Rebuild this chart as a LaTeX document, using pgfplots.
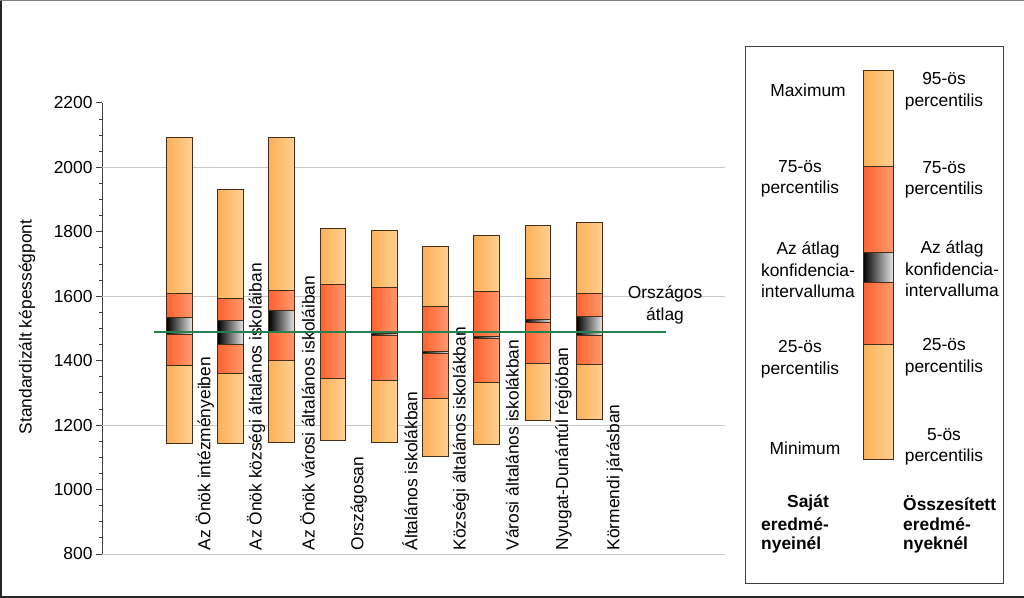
\documentclass[border=0pt]{standalone}
\usepackage{fontspec}
\setmainfont{Liberation Sans}
\usepackage{pgfplots}
\pgfplotsset{compat=1.18}

\definecolor{loL}{RGB}{252,176,88}
\definecolor{loR}{RGB}{255,208,146}
\definecolor{hiL}{RGB}{255,98,48}
\definecolor{hiR}{RGB}{255,154,110}
\definecolor{edge}{RGB}{70,45,25}
\definecolor{avg}{RGB}{38,128,78}
\definecolor{gridc}{RGB}{200,200,200}

\newcommand{\lbl}{\fontsize{17.4}{21.5}\selectfont}

\tikzset{
 lo/.style={draw=edge, line width=1pt, left color=loL, right color=loR},
 hi/.style={draw=edge, line width=1pt, left color=hiL, right color=hiR},
 ci/.style={draw=edge, line width=1pt, left color=black, right color=white!90!black},
}

% #1 left, #2 right, #3 min, #4 q25, #5 CI low, #6 CI high, #7 q75, #8 max
\newcommand{\boxbar}[8]{%
 \addplot[lo] coordinates {(#1,#3) (#2,#3) (#2,#4) (#1,#4)} -- cycle;
 \addplot[hi] coordinates {(#1,#4) (#2,#4) (#2,#5) (#1,#5)} -- cycle;
 \addplot[hi] coordinates {(#1,#6) (#2,#6) (#2,#7) (#1,#7)} -- cycle;
 \addplot[lo] coordinates {(#1,#7) (#2,#7) (#2,#8) (#1,#8)} -- cycle;
 \addplot[ci] coordinates {(#1,#5) (#2,#5) (#2,#6) (#1,#6)} -- cycle;
}

\begin{document}
\begin{tikzpicture}
\useasboundingbox (0,0) rectangle (1024pt,597pt);

\begin{axis}[
 at={(102pt,43pt)}, anchor=south west,
 scale only axis, width=623pt, height=451pt,
 xmin=-0.509, xmax=11.65, ymin=800, ymax=2200,
 axis x line=none, axis y line*=left,
 ytick={800,1000,...,2200},
 minor y tick num=3,
 tick align=outside,
 major tick length=6pt, minor tick length=3pt,
 y axis line style={black!75, line width=1pt},
 ytick style={black!75, line width=1pt},
 extra y ticks={800,1200,1600,2000},
 extra y tick labels={},
 extra y tick style={grid=major, major grid style={gridc, line width=1pt}, major tick length=0pt},
 yticklabel style={font=\lbl},
 /pgf/number format/1000 sep={},
 /pgf/number format/assume math mode=true,
 clip=false,
]
\node[rotate=90, anchor=west, font=\lbl] at (axis cs:1.5,800) {Az Önök intézményeiben};
\node[rotate=90, anchor=west, font=\lbl] at (axis cs:2.5,800) {Az Önök községi általános iskoláiban};
\node[rotate=90, anchor=west, font=\lbl] at (axis cs:3.5,800) {Az Önök városi általános iskoláiban};
\node[rotate=90, anchor=west, font=\lbl] at (axis cs:4.5,800) {Országosan};
\node[rotate=90, anchor=west, font=\lbl] at (axis cs:5.5,800) {Általános iskolákban};
\node[rotate=90, anchor=west, font=\lbl] at (axis cs:6.5,800) {Községi általános iskolákban};
\node[rotate=90, anchor=west, font=\lbl] at (axis cs:7.5,800) {Városi általános iskolákban};
\node[rotate=90, anchor=west, font=\lbl] at (axis cs:8.5,800) {Nyugat-Dunántúl régióban};
\node[rotate=90, anchor=west, font=\lbl] at (axis cs:9.5,800) {Körmendi járásban};

\boxbar{0.75}{1.25}{1143}{1386}{1482}{1534}{1608}{2093}
\boxbar{1.75}{2.25}{1143}{1360}{1451}{1525}{1593}{1931}
\boxbar{2.75}{3.25}{1145}{1401}{1492}{1557}{1619}{2093}
\boxbar{3.75}{4.25}{1151}{1345}{1487}{1491}{1637}{1811}
\boxbar{4.75}{5.25}{1145}{1338}{1477}{1483}{1626}{1803}
\boxbar{5.75}{6.25}{1103}{1282}{1423}{1428}{1567}{1753}
\boxbar{6.75}{7.25}{1141}{1331}{1470}{1476}{1616}{1790}
\boxbar{7.75}{8.25}{1215}{1391}{1518}{1527}{1655}{1821}
\boxbar{8.75}{9.25}{1217}{1388}{1478}{1536}{1610}{1828}

\addplot[avg, line width=2.5pt] coordinates {(0.5,1489) (10.5,1489)};
\end{axis}

% legend bar
\begin{axis}[at={(863pt,137pt)}, anchor=south west, scale only axis,
 width=30pt, height=389pt, xmin=0, xmax=1, ymin=0, ymax=389, hide axis, clip=false]
\boxbar{0}{1}{0}{115}{177}{207}{293}{389}
\end{axis}

\node[rotate=90, font=\lbl] at (27pt,270pt) {Standardizált képességpont};
\node[align=center, font=\lbl] at (665pt,292pt) {Országos\\átlag};

\draw[black!75, line width=1pt] (745pt,14pt) rectangle (1003pt,550pt);

\node[align=center, font=\lbl] at (808pt,507pt) {Maximum};
\node[align=center, font=\lbl] at (800pt,418pt) {75-ös\\percentilis};
\node[align=center, font=\lbl] at (808pt,327pt) {Az átlag\\konfidencia-\\intervalluma};
\node[align=center, font=\lbl] at (800pt,238pt) {25-ös\\percentilis};
\node[align=center, font=\lbl] at (805pt,149pt) {Minimum};

\node[align=center, font=\lbl] at (944pt,506pt) {95-ös\\percentilis};
\node[align=center, font=\lbl] at (944pt,417pt) {75-ös\\percentilis};
\node[align=center, font=\lbl] at (952pt,328pt) {Az átlag\\konfidencia-\\intervalluma};
\node[align=center, font=\lbl] at (944pt,240pt) {25-ös\\percentilis};
\node[align=center, font=\lbl] at (944pt,150pt) {5-ös\\percentilis};

\node[anchor=west, inner sep=0pt, font=\lbl\bfseries] at (787pt,94pt) {Saját};
\node[anchor=west, inner sep=0pt, font=\lbl\bfseries] at (761pt,73pt) {eredmé-};
\node[anchor=west, inner sep=0pt, font=\lbl\bfseries] at (761pt,52pt) {nyeinél};
\node[anchor=west, inner sep=0pt, font=\lbl\bfseries] at (903pt,94pt) {Összesített};
\node[anchor=west, inner sep=0pt, font=\lbl\bfseries] at (903pt,73pt) {eredmé-};
\node[anchor=west, inner sep=0pt, font=\lbl\bfseries] at (903pt,52pt) {nyeknél};

\draw[black!85, line width=3pt] (0,597pt) -- (0,0) -- (1024pt,0);
\draw[gray, line width=2pt] (0,597pt) -- (1024pt,597pt);
\end{tikzpicture}
\end{document}
